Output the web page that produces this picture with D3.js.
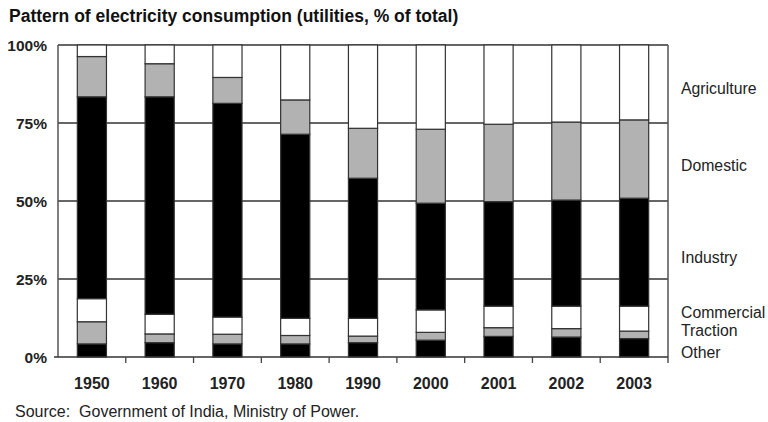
<!DOCTYPE html>
<html>
<head>
<meta charset="utf-8">
<script src="https://cdn.jsdelivr.net/npm/d3@7"></script>
<style>
  body { margin: 0; background: #fff; }
  svg { display: block; font-family: "Liberation Sans", Arial, sans-serif; }
</style>
</head>
<body>
<svg id="chart" width="768" height="422"></svg>
<script>
const years = ["1950", "1960", "1970", "1980", "1990", "2000", "2001", "2002", "2003"]
// bottom to top
const other       = [4.2, 4.6, 4.2, 4.2, 4.6, 5.4, 6.6, 6.4, 5.9]
const traction    = [7.1, 2.8, 3.1, 2.7, 2.1, 2.5, 2.8, 2.7, 2.4]
const commercial  = [7.4, 6.3, 5.5, 5.5, 5.7, 7.2, 6.9, 7.2, 8.0]
const industry    = [64.7, 69.7, 68.5, 59.0, 44.9, 34.2, 33.5, 34.0, 34.6]
const domestic    = [12.9, 10.6, 8.3, 11.0, 16.0, 23.7, 24.8, 25.0, 25.1]
const agriculture = [3.7, 6.0, 10.4, 17.6, 26.7, 27.0, 25.4, 24.7, 24.0]

const seriesNames = ["Other", "Traction", "Commercial", "Industry", "Domestic", "Agriculture"]
const seriesFill = ["#000000", "#b2b2b2", "#ffffff", "#000000", "#b2b2b2", "#ffffff"]
// where each legend label sits on the right (in % units)
const labelPos = [1.5, 8.5, 14.2, 32, 61.5, 86]
const yTicks = [0, 25, 50, 75, 100]

const svg = d3.select("#chart")
const margin = {top: 45, right: 100, bottom: 65, left: 58}
const W = 768, H = 422

const rows = years.map((y, i) => ({
  year: y,
  Other: other[i], Traction: traction[i], Commercial: commercial[i],
  Industry: industry[i], Domestic: domestic[i], Agriculture: agriculture[i]
}))
const stacked = d3.stack().keys(seriesNames)(rows)

const x = d3.scaleBand()
  .domain(years)
  .range([margin.left, W - margin.right])
  .paddingInner(0.57)
  .paddingOuter(0.285)

const y = d3.scaleLinear()
  .domain([0, 100])
  .range([H - margin.bottom, margin.top])

// title
svg.append("text")
  .attr("x", 9).attr("y", 22)
  .attr("font-size", 17.5).attr("font-weight", "bold")
  .attr("fill", "#111")
  .text("Pattern of electricity consumption (utilities, % of total)")

// grid lines (behind bars)
svg.append("g")
  .selectAll("line")
  .data(yTicks.filter(d => d > 0))
  .enter().append("line")
  .attr("x1", margin.left).attr("x2", W - margin.right)
  .attr("y1", d => y(d)).attr("y2", d => y(d))
  .attr("stroke", "#333").attr("stroke-width", 1.5)

// plot side borders
svg.append("line")
  .attr("x1", margin.left).attr("x2", margin.left)
  .attr("y1", y(100)).attr("y2", y(0))
  .attr("stroke", "#555").attr("stroke-width", 1.5)
svg.append("line")
  .attr("x1", W - margin.right).attr("x2", W - margin.right)
  .attr("y1", y(100)).attr("y2", y(0) + 6)
  .attr("stroke", "#555").attr("stroke-width", 1.5)

// bars
svg.append("g")
  .selectAll("g")
  .data(stacked)
  .enter().append("g")
  .attr("fill", (d, i) => seriesFill[i])
  .selectAll("rect")
  .data(d => d)
  .enter().append("rect")
  .attr("x", d => x(d.data.year))
  .attr("width", x.bandwidth())
  .attr("y", d => y(d[1]))
  .attr("height", d => y(d[0]) - y(d[1]))
  .attr("stroke", "#333")
  .attr("stroke-width", 1.2)

// x axis line + ticks at category boundaries
const step = x.step()
svg.append("line")
  .attr("x1", margin.left - 4).attr("x2", W - margin.right)
  .attr("y1", y(0)).attr("y2", y(0))
  .attr("stroke", "#333").attr("stroke-width", 1.5)
svg.append("g")
  .selectAll("line")
  .data(years.slice(0, -1))
  .enter().append("line")
  .attr("x1", d => x(d) + x.bandwidth() / 2 + step / 2)
  .attr("x2", d => x(d) + x.bandwidth() / 2 + step / 2)
  .attr("y1", y(0)).attr("y2", y(0) + 6)
  .attr("stroke", "#444").attr("stroke-width", 1.3)

// x labels
svg.append("g")
  .selectAll("text")
  .data(years)
  .enter().append("text")
  .attr("x", d => x(d) + x.bandwidth() / 2)
  .attr("y", 389)
  .attr("text-anchor", "middle")
  .attr("font-size", 16).attr("font-weight", "bold")
  .attr("fill", "#222")
  .text(d => d)

// y labels
svg.append("g")
  .selectAll("text")
  .data(yTicks)
  .enter().append("text")
  .attr("x", 47)
  .attr("y", d => y(d))
  .attr("dy", "0.36em")
  .attr("text-anchor", "end")
  .attr("font-size", 15.5).attr("font-weight", "bold")
  .attr("fill", "#222")
  .text(d => d + "%")

// right-hand labels
svg.append("g")
  .selectAll("text")
  .data(seriesNames)
  .enter().append("text")
  .attr("x", 681)
  .attr("y", (d, i) => y(labelPos[i]))
  .attr("dy", "0.36em")
  .attr("font-size", 15.8)
  .attr("fill", "#222")
  .text(d => d)

// source
svg.append("text")
  .attr("x", 15).attr("y", 417)
  .attr("font-size", 16)
  .attr("fill", "#222")
  .attr("xml:space", "preserve")
  .style("white-space", "pre")
  .text("Source:  Government of India, Ministry of Power.")
</script>
</body>
</html>
